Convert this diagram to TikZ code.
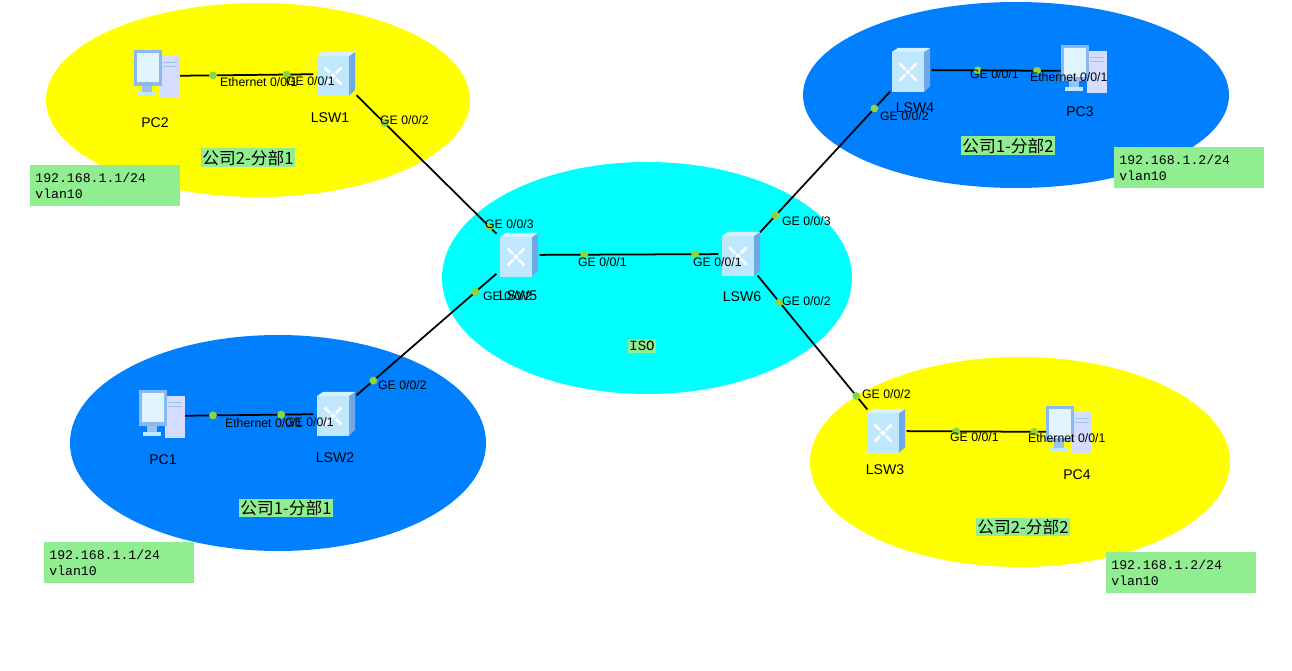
\documentclass[tikz,border=0pt]{standalone}
\usepackage{fontspec}
\setmainfont{Liberation Sans}
\setmonofont{Liberation Mono}
\newfontfamily\cjk{Noto Sans CJK SC}
\usetikzlibrary{positioning}
\definecolor{zoneyellow}{HTML}{FFFF00}
\definecolor{zoneblue}{HTML}{0080FF}
\definecolor{zonecyan}{HTML}{00FFFF}
\definecolor{notegreen}{HTML}{90EE90}
\definecolor{portdot}{HTML}{8CD63C}
\definecolor{devface}{HTML}{BFE8FF}
\definecolor{devside}{HTML}{6FA8E8}

\tikzset{
  pics/switch/.style={code={
    \fill[devside] (14,-18) -- (20,-22) -- (20,16) -- (14,22) -- cycle;
    \fill[devface!60!white] (-18,-18) -- (-12,-22) -- (20,-22) -- (14,-18) -- cycle;
    \fill[devface] (-18,-18) rectangle (14,22);
    \foreach \a in {45,135,225,315}
      \draw[white, line width=1.5pt] ([shift={(-2,2)}]\a:4) -- ([shift={(-2,2)}]\a:12);
    \fill[white] (-2,2) circle (2.5);
  }},
  pics/pc/.style={code={
    \fill[devface!60!blue!30] (2,-20) rectangle (22,22);
    \draw[devside!70] (5,-14) -- (19,-14) (5,-10) -- (19,-10);
    \fill[devside!80] (-24,-26) -- (4,-26) -- (4,10) -- (-24,10) -- cycle;
    \fill[devface!50!white] (-21,-23) rectangle (1,6);
    \fill[devside!70] (-16,10) rectangle (-6,16);
    \fill[devface] (-20,16) rectangle (-2,20);
  }},
}

\begin{document}
\begin{tikzpicture}[x=0.02cm, y=-0.02cm,
  dev/.style={minimum width=0.85cm, minimum height=0.85cm, inner sep=0pt},
  devlabel/.style={font=\fontsize{8}{9}\selectfont},
  link/.style={draw=black, line width=1pt},
  dot/.style={circle, fill=portdot, inner sep=0pt, minimum size=4.5pt},
  port/.style={font=\fontsize{7}{8}\selectfont, inner sep=1pt},
  zone/.style={font=\cjk\fontsize{9.5}{10}\selectfont, fill=notegreen, inner sep=1pt},
  note/.style={font=\ttfamily\fontsize{7.5}{9}\selectfont, fill=notegreen, align=left,
               anchor=north west, minimum width=150*0.02cm, minimum height=41*0.02cm, inner sep=2pt, text width=140*0.02cm},
]
  \useasboundingbox (0,0) rectangle (1292,671);

  % Zones
  \fill[zoneyellow] (258,100) ellipse [x radius=212, y radius=97];
  \fill[zoneblue] (1016,95) ellipse [x radius=213, y radius=93];
  \fill[zonecyan] (647,278) ellipse [x radius=205, y radius=116];
  \fill[zoneblue] (278,443) ellipse [x radius=208, y radius=108];
  \fill[zoneyellow] (1020,462) ellipse [x radius=210, y radius=105];

  % Devices
  \node[dev] (pc2) at (158,76) {};
  \node[dev] (lsw1) at (335,74) {};
  \node[dev] (lsw5) at (518,255) {};
  \node[dev] (lsw6) at (740,254) {};
  \node[dev] (lsw4) at (910,70) {};
  \node[dev] (pc3) at (1085,71) {};
  \node[dev] (pc1) at (163,416) {};
  \node[dev] (lsw2) at (335,414) {};
  \node[dev] (lsw3) at (885,431) {};
  \node[dev] (pc4) at (1070,432) {};

  % Links
  \draw[link] (pc2) -- node[dot, pos=0.25] {} node[dot, pos=0.8] {} (lsw1);
  \draw[link] (lsw1) -- node[dot, pos=0.2] {} node[dot, pos=0.95] {} (lsw5);
  \draw[link] (lsw5) -- node[dot, pos=0.25] {} node[dot, pos=0.87] {} (lsw6);
  \draw[link] (lsw6) -- node[dot, pos=0.12] {} node[dot, pos=0.88] {} (lsw4);
  \draw[link] (lsw4) -- node[dot, pos=0.35] {} node[dot, pos=0.8] {} (pc3);
  \draw[link] (lsw5) -- node[dot, pos=0.15] {} node[dot, pos=0.88] {} (lsw2);
  \draw[link] (pc1) -- node[dot, pos=0.22] {} node[dot, pos=0.75] {} (lsw2);
  \draw[link] (lsw6) -- node[dot, pos=0.2] {} node[dot, pos=0.9] {} (lsw3);
  \draw[link] (lsw3) -- node[dot, pos=0.35] {} node[dot, pos=0.9] {} (pc4);

  % Icons
  \foreach \n in {lsw1,lsw5,lsw6,lsw4,lsw2,lsw3}
    \pic at (\n) {switch};
  \foreach \n in {pc2,pc3,pc1,pc4}
    \pic at (\n) {pc};

  % Device labels
  \node[devlabel] at (155,123) {PC2};
  \node[devlabel] at (330,118) {LSW1};
  \node[devlabel] at (518,296) {LSW5};
  \node[devlabel] at (742,297) {LSW6};
  \node[devlabel] at (915,108) {LSW4};
  \node[devlabel] at (1080,112) {PC3};
  \node[devlabel] at (163,460) {PC1};
  \node[devlabel] at (335,458) {LSW2};
  \node[devlabel] at (885,470) {LSW3};
  \node[devlabel] at (1077,475) {PC4};

  % Port labels
  \node[port, anchor=west] at (218,82) {Ethernet 0/0/1};
  \node[port, anchor=west] at (284,81) {GE 0/0/1};
  \node[port, anchor=west] at (378,120) {GE 0/0/2};
  \node[port, anchor=west] at (483,224) {GE 0/0/3};
  \node[port, anchor=west] at (481,296) {GE 0/0/2};
  \node[port, anchor=west] at (576,262) {GE 0/0/1};
  \node[port, anchor=west] at (691,262) {GE 0/0/1};
  \node[port, anchor=west] at (780,221) {GE 0/0/3};
  \node[port, anchor=west] at (780,301) {GE 0/0/2};
  \node[port, anchor=west] at (878,116) {GE 0/0/2};
  \node[port, anchor=west] at (968,74) {GE 0/0/1};
  \node[port, anchor=west] at (1028,77) {Ethernet 0/0/1};
  \node[port, anchor=west] at (376,385) {GE 0/0/2};
  \node[port, anchor=west] at (223,423) {Ethernet 0/0/1};
  \node[port, anchor=west] at (283,422) {GE 0/0/1};
  \node[port, anchor=west] at (860,394) {GE 0/0/2};
  \node[port, anchor=west] at (948,437) {GE 0/0/1};
  \node[port, anchor=west] at (1026,438) {Ethernet 0/0/1};

  % Zone names
  \node[zone] at (248,158) {公司2-分部1};
  \node[zone] at (1008,146) {公司1-分部2};
  \node[zone, font=\ttfamily\fontsize{8}{9}\selectfont] at (642,346) {ISO};
  \node[zone] at (286,508) {公司1-分部1};
  \node[zone] at (1023,527) {公司2-分部2};

  % Address notes
  \node[note] at (30,165) {192.168.1.1/24\\vlan10};
  \node[note] at (1114,147) {192.168.1.2/24\\vlan10};
  \node[note] at (44,542) {192.168.1.1/24\\vlan10};
  \node[note] at (1106,552) {192.168.1.2/24\\vlan10};
\end{tikzpicture}
\end{document}
